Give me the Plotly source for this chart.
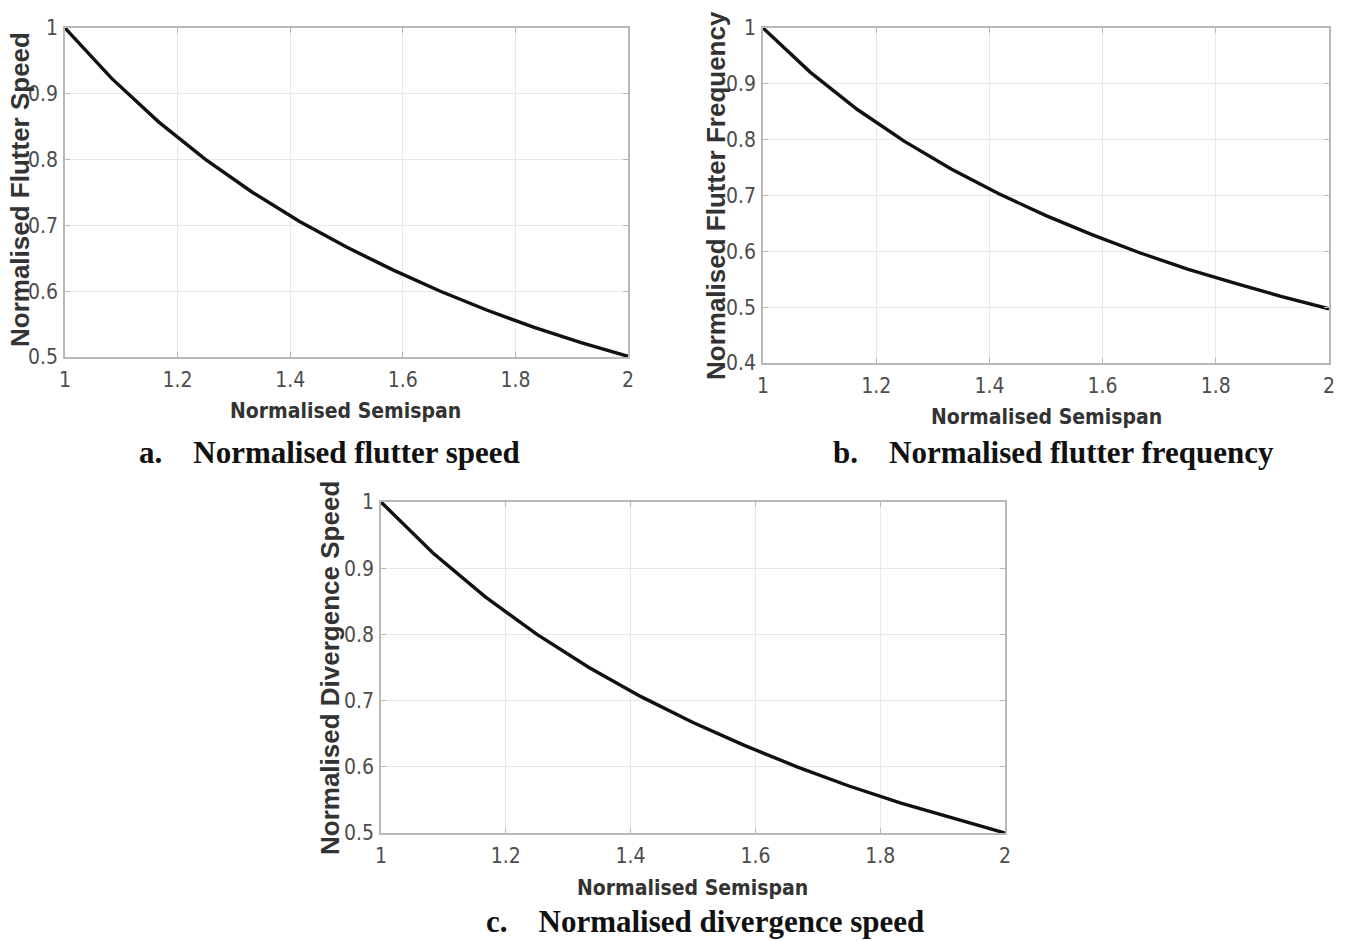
import plotly.graph_objects as go

W, H = 1346, 941

semispan = [1.0, 1.0833, 1.1667, 1.25, 1.3333, 1.4167, 1.5, 1.5833, 1.6667, 1.75, 1.8333, 1.9167, 2.0]
flutter_speed = [1.0, 0.923, 0.857, 0.800, 0.750, 0.706, 0.667, 0.632, 0.600, 0.571, 0.545, 0.522, 0.501]
flutter_freq = [1.0, 0.921, 0.854, 0.797, 0.747, 0.703, 0.664, 0.629, 0.597, 0.568, 0.543, 0.519, 0.497]
divergence_speed = [1.0, 0.923, 0.857, 0.800, 0.750, 0.706, 0.667, 0.632, 0.600, 0.571, 0.545, 0.522, 0.500]

x_ticks = [1, 1.2, 1.4, 1.6, 1.8, 2]
x_ticklabels = ["1", "1.2", "1.4", "1.6", "1.8", "2"]
y_ticks_a = [0.5, 0.6, 0.7, 0.8, 0.9, 1]
y_ticks_b = [0.4, 0.5, 0.6, 0.7, 0.8, 0.9, 1]
y_ticklabels_a = ["0.5", "0.6", "0.7", "0.8", "0.9", "1"]
y_ticklabels_b = ["0.4", "0.5", "0.6", "0.7", "0.8", "0.9", "1"]

y_titles = ["Normalised Flutter Speed", "Normalised Flutter Frequency", "Normalised Divergence Speed"]
x_title = "Normalised Semispan"
captions = ["a.", "b.", "c."]
caption_texts = ["Normalised flutter speed", "Normalised flutter frequency", "Normalised divergence speed"]

def px(x):
    return x / W

def py(y):
    return 1 - y / H

# plot-area boxes in pixels (left, right, top, bottom)
boxes = [(65, 628, 28, 357), (763, 1329, 28, 363), (381, 1005, 502, 833)]

tick_font = dict(family="DejaVu Sans Condensed, Liberation Sans Narrow, Arial Narrow, Liberation Sans", size=21, color="#4d4d4d")
ytitle_font = dict(family="Liberation Sans, Arial", size=26, color="#333333")
xtitle_font = dict(family="DejaVu Sans Condensed, Liberation Sans, Arial", size=21, color="#333333")
cap_font = dict(family="Liberation Serif, Times New Roman", size=31, color="#111111")

fig = go.Figure()
series = [flutter_speed, flutter_freq, divergence_speed]
yranges = [[0.5, 1], [0.4, 1], [0.5, 1]]
yticks = [(y_ticks_a, y_ticklabels_a), (y_ticks_b, y_ticklabels_b), (y_ticks_a, y_ticklabels_a)]

layout = dict(
    width=W, height=H, margin=dict(l=0, r=0, t=0, b=0),
    paper_bgcolor="white", plot_bgcolor="white", showlegend=False,
)

for i, (ys, box) in enumerate(zip(series, boxes)):
    n = "" if i == 0 else str(i + 1)
    fig.add_trace(go.Scatter(x=semispan, y=ys, mode="lines",
                             line=dict(color="#111111", width=3.4),
                             xaxis="x" + n, yaxis="y" + n, hoverinfo="skip"))
    l, r, t, b = box
    axcommon = dict(showgrid=True, gridcolor="#e8e8e8", gridwidth=1,
                    showline=True, linecolor="#b8b8b8", linewidth=1.5, mirror="ticks",
                    ticks="inside", ticklen=5, tickcolor="#b8b8b8",
                    tickfont=tick_font, zeroline=False, automargin=False)
    layout["xaxis" + n] = dict(axcommon, domain=[px(l), px(r)], range=[1, 2],
                                tickvals=x_ticks, ticktext=x_ticklabels,
                                anchor="y" + n, ticklabelstandoff=3)
    layout["yaxis" + n] = dict(axcommon, domain=[py(b), py(t)], range=yranges[i],
                                tickvals=yticks[i][0], ticktext=yticks[i][1],
                                anchor="x" + n, ticklabelstandoff=1)

fig.update_layout(**layout)

annotations = []
ytitle_pos = [(20, 190), (716, 196), (330, 668)]
for txt, (cx, cy) in zip(y_titles, ytitle_pos):
    annotations.append(dict(text="<b>" + txt + "</b>", x=px(cx), y=py(cy), xref="paper", yref="paper",
                            showarrow=False, textangle=-90, font=ytitle_font,
                            xanchor="center", yanchor="middle"))
xtitle_pos = [(346, 411), (1046, 417), (693, 888)]
for (cx, cy) in xtitle_pos:
    annotations.append(dict(text="<b>" + x_title + "</b>", x=px(cx), y=py(cy), xref="paper", yref="paper",
                            showarrow=False, font=xtitle_font, xanchor="center", yanchor="middle"))
cap_pos = [(329, 452), (1053, 452), (705, 921)]
for lab, txt, (cx, cy) in zip(captions, caption_texts, cap_pos):
    annotations.append(dict(text="<b>" + lab + "&nbsp;&nbsp;&nbsp;&nbsp;" + txt + "</b>", x=px(cx), y=py(cy),
                            xref="paper", yref="paper", showarrow=False, font=cap_font,
                            xanchor="center", yanchor="middle"))
fig.update_layout(annotations=annotations)

fig.write_html("out.html")
